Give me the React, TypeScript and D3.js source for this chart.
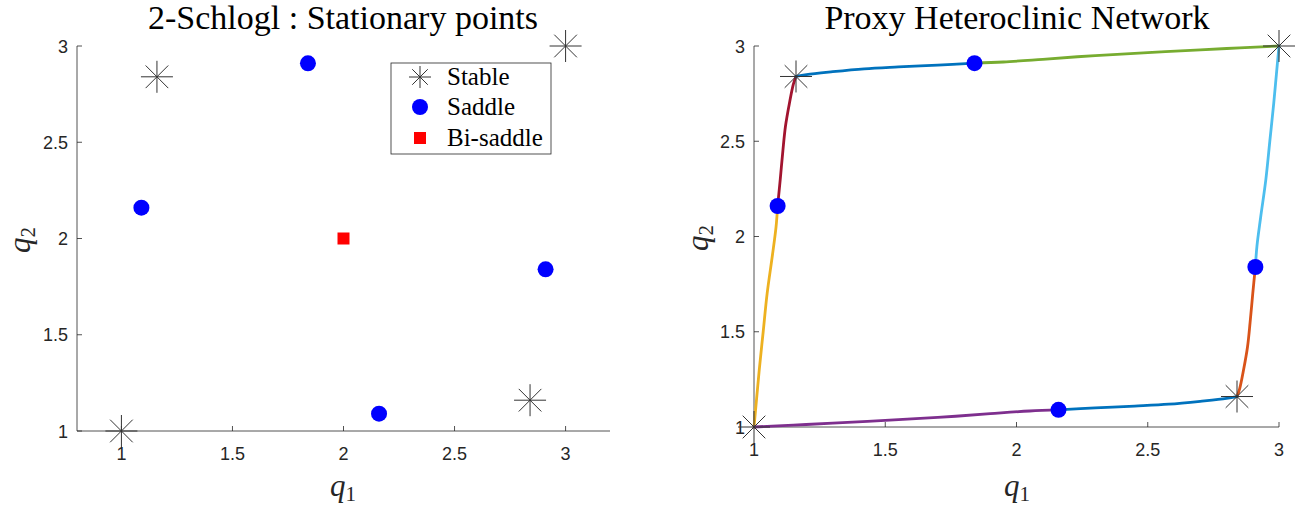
import React from "react";
import * as d3 from "d3";

// ---- data ----
const stablePoints: [number, number][] = [
  [1, 1],
  [1.16, 2.84],
  [2.84, 1.16],
  [3, 3],
];
const saddlePoints: [number, number][] = [
  [1.09, 2.16],
  [2.16, 1.09],
  [1.84, 2.91],
  [2.91, 1.84],
];
const biSaddlePoints: [number, number][] = [[2, 2]];

const leftXTicks = [1, 1.5, 2, 2.5, 3];
const leftYTicks = [1, 1.5, 2, 2.5, 3];
const rightXTicks = [1, 1.5, 2, 2.5, 3];
const rightYTicks = [1, 1.5, 2, 2.5, 3];

const legendLabels = ["Stable", "Saddle", "Bi-saddle"];

// heteroclinic connections
const curveYellow: [number, number][] = [
  [1, 1], [1.01, 1.15], [1.02, 1.3], [1.035, 1.5], [1.05, 1.7], [1.07, 1.9], [1.084, 2.05], [1.09, 2.16],
];
const curveDarkRed: [number, number][] = [
  [1.09, 2.16], [1.1, 2.3], [1.11, 2.45], [1.12, 2.58], [1.135, 2.7], [1.15, 2.8], [1.16, 2.84],
];
const curveBlueTop: [number, number][] = [
  [1.16, 2.84], [1.2, 2.85], [1.3, 2.865], [1.42, 2.88], [1.55, 2.89], [1.7, 2.9], [1.84, 2.91],
];
const curveGreen: [number, number][] = [
  [1.84, 2.91], [1.95, 2.916], [2.1, 2.93], [2.3, 2.95], [2.5, 2.965], [2.7, 2.98], [2.85, 2.99], [3, 3],
];
const curveLightBlue: [number, number][] = [
  [2.91, 1.84], [2.916, 1.95], [2.93, 2.1], [2.95, 2.3], [2.965, 2.5], [2.98, 2.7], [2.99, 2.85], [3, 3],
];
const curveOrange: [number, number][] = [
  [2.84, 1.16], [2.85, 1.2], [2.865, 1.3], [2.88, 1.42], [2.89, 1.55], [2.9, 1.7], [2.91, 1.84],
];
const curveBlueBottom: [number, number][] = [
  [2.16, 1.09], [2.3, 1.1], [2.45, 1.11], [2.58, 1.12], [2.7, 1.135], [2.8, 1.15], [2.84, 1.16],
];
const curvePurple: [number, number][] = [
  [1, 1], [1.15, 1.01], [1.3, 1.02], [1.5, 1.035], [1.7, 1.05], [1.9, 1.07], [2.05, 1.084], [2.16, 1.09],
];

const curves = [
  { pts: curveYellow, color: "#EDB120" },
  { pts: curveDarkRed, color: "#A2142F" },
  { pts: curveBlueTop, color: "#0072BD" },
  { pts: curveGreen, color: "#77AC30" },
  { pts: curveLightBlue, color: "#4DBEEE" },
  { pts: curveOrange, color: "#D95319" },
  { pts: curveBlueBottom, color: "#0072BD" },
  { pts: curvePurple, color: "#7E2F8E" },
];

const AXIS = "#262626";
const TICKFONT = "'Liberation Sans', Arial, sans-serif";
const SERIF = "'Liberation Serif', 'Times New Roman', serif";

function Star({ x, y, r = 16 }: { x: number; y: number; r?: number }) {
  const d = r * Math.SQRT1_2;
  return (
    <g stroke="#333" strokeWidth={1} fill="none">
      <line x1={x - r} y1={y} x2={x + r} y2={y} />
      <line x1={x} y1={y - r} x2={x} y2={y + r} />
      <line x1={x - d} y1={y - d} x2={x + d} y2={y + d} />
      <line x1={x - d} y1={y + d} x2={x + d} y2={y - d} />
    </g>
  );
}

function Axes({
  x, y, xTicks, yTicks, tickFmt,
}: {
  x: d3.ScaleLinear<number, number>;
  y: d3.ScaleLinear<number, number>;
  xTicks: number[];
  yTicks: number[];
  tickFmt: (v: number) => string;
}) {
  const [x0, x1] = x.range();
  const [y0, y1] = y.range();
  const tl = 5;
  return (
    <g>
      <line x1={x0} y1={y0} x2={x1} y2={y0} stroke={AXIS} strokeWidth={0.8} />
      <line x1={x0} y1={y0} x2={x0} y2={y1} stroke={AXIS} strokeWidth={0.8} />
      {xTicks.map((t) => (
        <g key={"x" + t}>
          <line x1={x(t)} x2={x(t)} y1={y0} y2={y0 - tl} stroke={AXIS} strokeWidth={0.8} />
          <text x={x(t)} y={y0 + 29} textAnchor="middle" fontFamily={TICKFONT} fontSize={18} fill={AXIS}>
            {tickFmt(t)}
          </text>
        </g>
      ))}
      {yTicks.map((t) => (
        <g key={"y" + t}>
          <line x1={x0} x2={x0 + tl} y1={y(t)} y2={y(t)} stroke={AXIS} strokeWidth={0.8} />
          <text x={x0 - 9} y={y(t) + 6.5} textAnchor="end" fontFamily={TICKFONT} fontSize={18} fill={AXIS}>
            {tickFmt(t)}
          </text>
        </g>
      ))}
    </g>
  );
}

function QLabel({ x, y, sub, rotate }: { x: number; y: number; sub: string; rotate?: boolean }) {
  return (
    <text
      x={x}
      y={y}
      textAnchor="middle"
      fontFamily={SERIF}
      fontSize={31}
      fill={AXIS}
      transform={rotate ? `rotate(-90 ${x} ${y})` : undefined}
    >
      <tspan fontStyle="italic">q</tspan>
      <tspan fontSize={21} dy={5}>{sub}</tspan>
    </text>
  );
}

export default function App() {
  const W = 1311;
  const H = 508;
  const fmt = (v: number) => d3.format("~g")(v);

  const xL = d3.scaleLinear().domain([0.8, 3.2]).range([77, 610]);
  const yL = d3.scaleLinear().domain([1, 3]).range([431, 46]);
  const xR = d3.scaleLinear().domain([1, 3]).range([754, 1279]);
  const yR = d3.scaleLinear().domain([1, 3]).range([427, 46]);

  const lineR = d3
    .line<[number, number]>()
    .x((d) => xR(d[0]))
    .y((d) => yR(d[1]))
    .curve(d3.curveCatmullRom.alpha(0.5));

  const legX = 391, legY = 63, legW = 160, legH = 91;
  const legRows = [77, 107, 138];

  return (
    <svg width={W} height={H} style={{ position: "absolute", left: 0, top: 0, background: "#fff" }}>
      <rect width={W} height={H} fill="#fff" />
      {/* Left plot */}
      <text x={343} y={29} textAnchor="middle" fontFamily={SERIF} fontSize={34} fill="#000">
        2-Schlogl : Stationary points
      </text>
      <Axes x={xL} y={yL} xTicks={leftXTicks} yTicks={leftYTicks} tickFmt={fmt} />
      {stablePoints.map((p, i) => (
        <Star key={"sl" + i} x={xL(p[0])} y={yL(p[1])} />
      ))}
      {saddlePoints.map((p, i) => (
        <circle key={"dl" + i} cx={xL(p[0])} cy={yL(p[1])} r={8} fill="#0000FF" />
      ))}
      {biSaddlePoints.map((p, i) => (
        <rect key={"bl" + i} x={xL(p[0]) - 6} y={yL(p[1]) - 6} width={12} height={12} fill="#FF0000" />
      ))}
      <QLabel x={343} y={496} sub="1" />
      <QLabel x={30} y={240} sub="2" rotate />

      {/* Legend */}
      <rect x={legX} y={legY} width={legW} height={legH} fill="#fff" stroke={AXIS} strokeWidth={0.8} />
      <Star x={420} y={legRows[0]} r={11} />
      <circle cx={420} cy={legRows[1]} r={8} fill="#0000FF" />
      <rect x={414} y={legRows[2] - 6} width={12} height={12} fill="#FF0000" />
      {legendLabels.map((l, i) => (
        <text key={l} x={447} y={legRows[i] + 8} fontFamily={SERIF} fontSize={25} fill="#000">
          {l}
        </text>
      ))}

      {/* Right plot */}
      <text x={1017} y={29} textAnchor="middle" fontFamily={SERIF} fontSize={34} fill="#000">
        Proxy Heteroclinic Network
      </text>
      <Axes x={xR} y={yR} xTicks={rightXTicks} yTicks={rightYTicks} tickFmt={fmt} />
      {curves.map((c, i) => (
        <path key={"c" + i} d={lineR(c.pts) || ""} fill="none" stroke={c.color} strokeWidth={2.8} strokeLinecap="round" />
      ))}
      {stablePoints.map((p, i) => (
        <Star key={"sr" + i} x={xR(p[0])} y={yR(p[1])} />
      ))}
      {saddlePoints.map((p, i) => (
        <circle key={"dr" + i} cx={xR(p[0])} cy={yR(p[1])} r={8} fill="#0000FF" />
      ))}
      <QLabel x={1017} y={496} sub="1" />
      <QLabel x={708} y={238} sub="2" rotate />
    </svg>
  );
}
